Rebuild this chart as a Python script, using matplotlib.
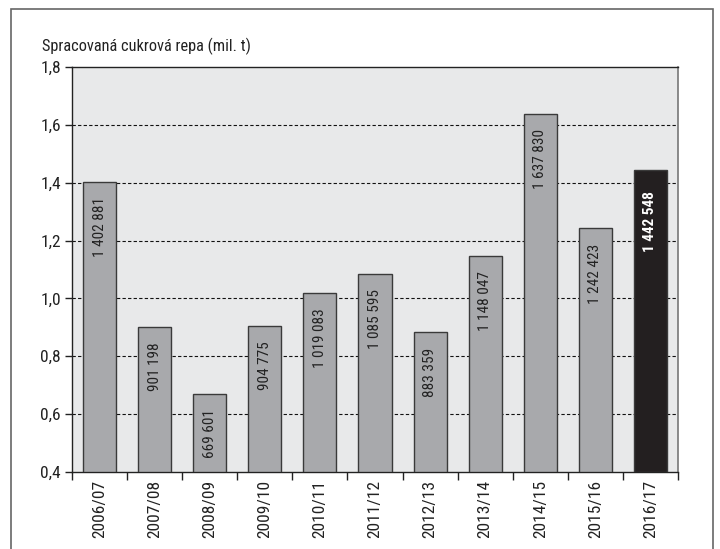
import matplotlib
matplotlib.use("Agg")
import matplotlib.pyplot as plt
from matplotlib.patches import Rectangle
from matplotlib.ticker import FixedLocator

plt.rcParams['font.family'] = ['Roboto Condensed', 'Liberation Sans', 'DejaVu Sans']

seasons = ["2006/07", "2007/08", "2008/09", "2009/10", "2010/11", "2011/12",
           "2012/13", "2013/14", "2014/15", "2015/16", "2016/17"]
tonnes = [1402881, 901198, 669601, 904775, 1019083, 1085595,
          883359, 1148047, 1637830, 1242423, 1442548]
labels = ["1 402 881", "901 198", "669 601", "904 775", "1 019 083", "1 085 595",
          "883 359", "1 148 047", "1 637 830", "1 242 423", "1 442 548"]
yticks = [0.4, 0.6, 0.8, 1.0, 1.2, 1.4, 1.6, 1.8]
ytick_labels = ["0,4", "0,6", "0,8", "1,0", "1,2", "1,4", "1,6", "1,8"]
title = "Spracovaná cukrová repa (mil. t)"

values = [t / 1e6 for t in tonnes]

W, H = 720, 549
fig = plt.figure(figsize=(W / 100, H / 100), dpi=100)
ax = fig.add_axes([72 / W, 1 - 472 / H, (678 - 72) / W, (472 - 67) / H])
ax.set_facecolor('#e8e9ea')

x = list(range(len(seasons)))
colors = ['#a8a9ac'] * (len(seasons) - 1) + ['#231f20']
ax.bar(x, [v - 0.4 for v in values], bottom=0.4, width=0.6, color=colors,
       edgecolor='#3a3a3a', linewidth=1.0, zorder=3)

ax.set_xlim(-0.5, len(seasons) - 0.5)
ax.set_ylim(0.4, 1.8)

for yv in yticks[1:-1]:
    ax.axhline(yv, color='#111111', linestyle=(0, (3, 2)), linewidth=0.8, zorder=2)

for i, (v, lab) in enumerate(zip(values, labels)):
    last = i == len(values) - 1
    ax.annotate(lab, (i, v), xytext=(0, -15 if last else -11), textcoords='offset points',
                rotation=90, ha='center', va='top', fontsize=11,
                color='white' if last else '#222222',
                fontweight='bold' if last else 'normal', zorder=4)

ax.set_yticks(yticks)
ax.set_yticklabels(ytick_labels, fontsize=12.5, color='#222222')
ax.set_xticks(x)
ax.set_xticklabels(seasons, rotation=90, fontsize=12.5, color='#222222')
ax.tick_params(axis='x', which='major', length=0, pad=6)
ax.xaxis.set_minor_locator(FixedLocator([i - 0.5 for i in range(len(seasons) + 1)]))
ax.tick_params(axis='x', which='minor', length=6, width=1, color='#222222', direction='out')
ax.tick_params(axis='y', length=5, width=1, color='#222222', direction='out', pad=3)

for s in ['left', 'bottom', 'top']:
    ax.spines[s].set_color('#222222')
    ax.spines[s].set_linewidth(1.0)
ax.spines['right'].set_color('#777777')
ax.spines['right'].set_linewidth(1.2)

fig.text(42 / W, 1 - 46 / H, title, fontsize=11.8, color='#222222', va='center', ha='left')

frame = Rectangle((11 / W, -0.05), (713 - 11) / W, 1 - 9 / H + 0.05,
                  transform=fig.transFigure, fill=False, edgecolor='#666666',
                  linewidth=1.2)
fig.patches.append(frame)

fig.savefig('out.png', dpi=100)
